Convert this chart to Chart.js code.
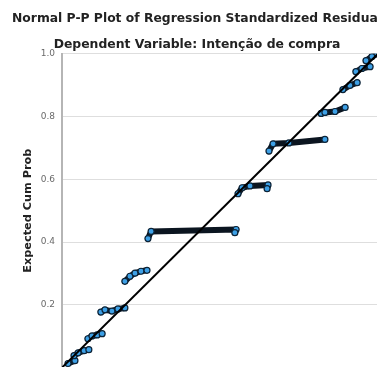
<!DOCTYPE html>
<html>
<head>
<meta charset="utf-8">
<script src="https://cdn.jsdelivr.net/npm/chart.js@4.4.1/dist/chart.umd.min.js"></script>
<style>
  html, body { margin: 0; padding: 0; background: #fff; overflow: hidden; }
  #wrap { width: 377px; height: 367px; overflow: hidden; position: relative; }
  canvas { position: absolute; left: 0; top: 0; }
</style>
</head>
<body>
<div id="wrap"><canvas id="ppChart" width="394" height="380"></canvas></div>
<script>
// Observed cum prob (x) and expected cum prob (y), null = gap between groups
const observedProb = [
  0.019, 0.041, null,
  0.038, 0.051, 0.070, 0.085, null,
  0.082, 0.095, 0.111, 0.127, null,
  0.123, 0.136, 0.158, 0.177, 0.199, null,
  0.199, 0.215, 0.231, 0.250, 0.269, null,
  0.272, 0.282, 0.551, 0.547, null,
  0.557, 0.570, 0.595, 0.652, 0.649, null,
  0.655, 0.668, 0.718, 0.832, null,
  0.820, 0.832, 0.864, 0.896, null,
  0.889, 0.911, 0.934, null,
  0.930, 0.949, 0.975, null,
  0.962, 0.981, 0.997
];
const expectedProb = [
  0.013, 0.022, null,
  0.038, 0.047, 0.054, 0.057, null,
  0.092, 0.101, 0.104, 0.108, null,
  0.177, 0.184, 0.180, 0.187, 0.190, null,
  0.275, 0.291, 0.301, 0.307, 0.310, null,
  0.411, 0.434, 0.440, 0.430, null,
  0.554, 0.573, 0.579, 0.582, 0.570, null,
  0.690, 0.713, 0.716, 0.727, null,
  0.810, 0.813, 0.816, 0.829, null,
  0.886, 0.899, 0.908, null,
  0.943, 0.953, 0.959, null,
  0.978, 0.991, 1.000
];
const refLine = [0, 1];
const yTicks = [0.2, 0.4, 0.6, 0.8, 1.0];

const points = observedProb.map((x, i) => ({ x: x, y: expectedProb[i] }));

new Chart(document.getElementById('ppChart'), {
  type: 'line',
  data: {
    datasets: [{
      data: points,
      showLine: true,
      spanGaps: false,
      borderColor: '#0b1520',
      borderWidth: 6,
      borderCapStyle: 'round',
      borderJoinStyle: 'round',
      tension: 0,
      pointRadius: 3,
      pointBackgroundColor: '#3da0e6',
      pointBorderColor: '#0d2438',
      pointBorderWidth: 1.2,
      order: 2
    }, {
      data: refLine.map(v => ({ x: v, y: v })),
      borderColor: '#000',
      borderWidth: 2,
      pointRadius: 0,
      order: 1
    }]
  },
  options: {
    responsive: false,
    animation: false,
    layout: { padding: { left: 12, right: 12, top: 0, bottom: 10 } },
    plugins: {
      legend: { display: false },
      tooltip: { enabled: false },
      title: {
        display: true,
        text: 'Normal P-P Plot of Regression Standardized Residual',
        color: '#222',
        font: { family: 'DejaVu Sans', size: 12.4, weight: 'bold' },
        padding: { top: 11, bottom: 9 }
      },
      subtitle: {
        display: true,
        text: 'Dependent Variable: Intenção de compra',
        color: '#222',
        font: { family: 'DejaVu Sans', size: 12.4, weight: 'bold' },
        padding: { top: 2, bottom: 2 }
      }
    },
    scales: {
      x: {
        type: 'linear',
        min: 0, max: 1,
        display: false
      },
      y: {
        type: 'linear',
        min: 0, max: 1,
        afterFit: s => { s.width = 50; },
        afterBuildTicks: s => { s.ticks = yTicks.map(v => ({ value: v })); },
        ticks: {
          padding: 7,
          color: '#6a6a6a',
          font: { family: 'DejaVu Sans', size: 9 },
          callback: v => v.toFixed(1)
        },
        grid: { color: '#dedede', lineWidth: 1, drawTicks: false },
        border: { color: '#b5b5b5', width: 2 },
        title: {
          display: true,
          text: 'Expected Cum Prob',
          color: '#222',
          font: { family: 'DejaVu Sans', size: 11.3, weight: 'bold' },
          padding: { top: 9, bottom: 0 }
        }
      },
      yRight: {
        type: 'linear',
        position: 'right',
        min: 0, max: 1,
        afterFit: s => { s.width = 4; },
        ticks: { display: false },
        grid: { display: false },
        border: { display: false }
      }
    }
  }
});
</script>
</body>
</html>
